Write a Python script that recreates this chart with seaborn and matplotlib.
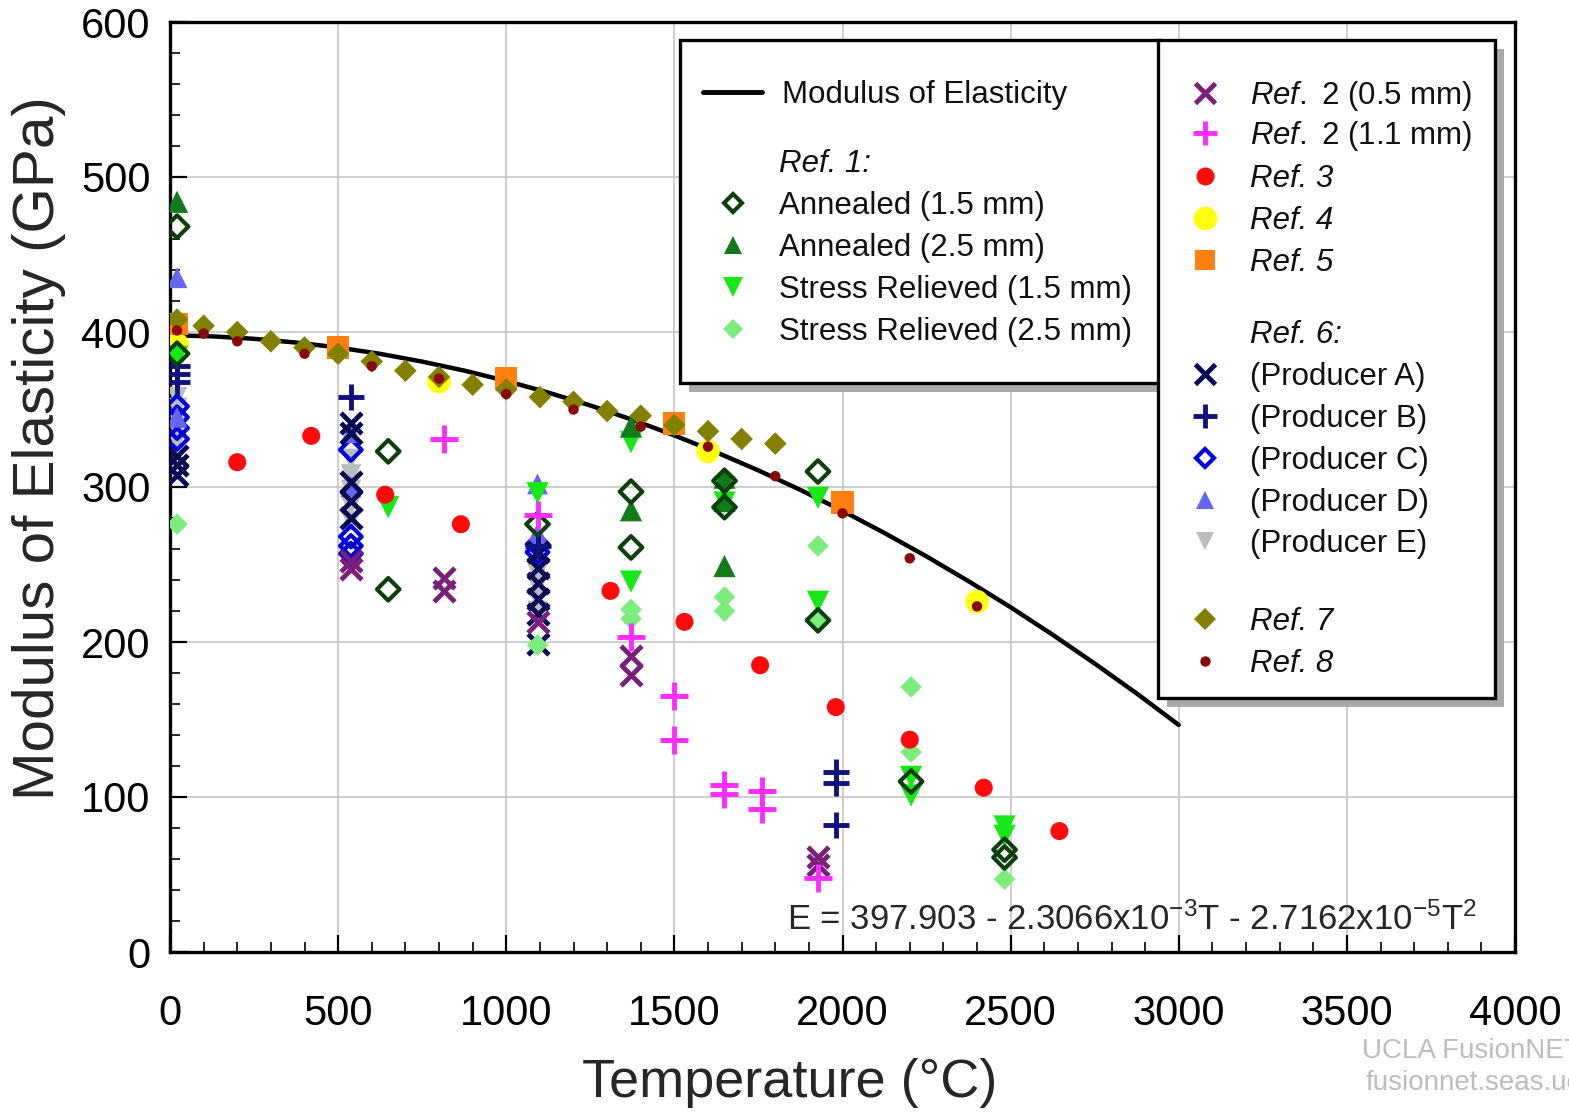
import matplotlib
matplotlib.use("Agg")
import numpy as np
import pandas as pd
import seaborn as sns
import matplotlib.pyplot as plt
from matplotlib.lines import Line2D
from matplotlib.patches import Rectangle
from matplotlib.ticker import MultipleLocator

# ---------------- data ----------------
curve_T = [0, 125, 250, 375, 500, 625, 750, 875, 1000, 1125, 1250, 1375, 1500,
           1625, 1750, 1875, 2000, 2125, 2250, 2375, 2500, 2625, 2750, 2875, 3000]
curve_E = [397.9, 397.2, 395.6, 393.2, 390.0, 385.9, 380.9, 375.1, 368.4, 360.9, 352.6, 343.4, 333.3,
           322.4, 310.7, 298.1, 284.6, 270.3, 255.2, 239.2, 222.4, 204.7, 186.1, 166.8, 146.5]

ref1_a15_T = [21, 21, 649, 649, 1093, 1371, 1371, 1649, 1649, 1927, 1927, 2204, 2482, 2482]
ref1_a15_E = [468, 386, 323, 234, 276, 297, 261, 304, 287, 310, 214, 110, 66, 61]

ref1_a25_T = [21, 1371, 1371, 1649, 1649, 1649]
ref1_a25_E = [484, 339, 285, 306, 291, 249]

ref1_sr15_T = [21, 649, 1093, 1371, 1371, 1649, 1649, 1927, 1927, 2204, 2204, 2482, 2482]
ref1_sr15_E = [384, 287, 296, 329, 239, 300, 290, 293, 226, 113, 101, 81, 75]

ref1_sr25_T = [21, 1093, 1371, 1371, 1649, 1649, 1927, 1927, 2204, 2204, 2482]
ref1_sr25_E = [276, 198, 221, 215, 229, 220, 262, 214, 171, 129, 47]

ref2_05_T = [538, 538, 816, 816, 1093, 1371, 1371, 1927, 1927]
ref2_05_E = [252, 247, 241, 233, 213, 191, 179, 61, 56]

ref2_11_T = [816, 1093, 1371, 1500, 1500, 1649, 1649, 1760, 1760, 1927]
ref2_11_E = [331, 282, 203, 165, 137, 108, 102, 104, 92, 48]

ref3_T = [200, 420, 640, 865, 1310, 1530, 1755, 1980, 2200, 2420, 2645]
ref3_E = [316, 333, 295, 276, 233, 213, 185, 158, 137, 106, 78]

ref4_T = [21, 800, 1600, 2400]
ref4_E = [392, 368, 323, 226]

ref5_T = [21, 500, 1000, 1500, 2000]
ref5_E = [405, 390, 370, 341, 290]

prodA_T = [21, 21, 21, 538, 538, 538, 538, 538, 1093, 1093, 1093, 1093, 1093, 1093]
prodA_E = [320, 314, 308, 341, 335, 303, 291, 280, 258, 248, 238, 228, 218, 199]
prodB_T = [21, 21, 21, 538, 1093, 1982, 1982, 1982]
prodB_E = [378, 373, 368, 358, 262, 116, 109, 82]
prodC_T = [21, 21, 21, 21, 538, 538, 538, 538, 1093, 1093]
prodC_E = [352, 345, 338, 331, 324, 268, 262, 257, 263, 258]
prodD_T = [21, 21, 538, 538, 1093, 1093]
prodD_E = [435, 345, 335, 300, 302, 270]
prodE_T = [21, 21, 21, 21, 21, 538, 538, 538, 538, 538, 1093, 1093, 1093, 1093, 1093]
prodE_E = [358, 351, 344, 337, 330, 318, 308, 298, 288, 278, 252, 244, 236, 228, 220]

ref7_T = [21, 100, 200, 300, 400, 500, 600, 700, 800, 900, 1000, 1100, 1200, 1300, 1400, 1500, 1600, 1700, 1800]
ref7_E = [408, 404, 400, 394, 390, 386, 381, 375, 371, 366, 363, 358, 355, 349, 346, 340, 336, 331, 328]

ref8_T = [21, 100, 200, 400, 600, 800, 1000, 1200, 1400, 1600, 1800, 2000, 2200, 2400]
ref8_E = [401, 399, 394, 386, 378, 370, 360, 350, 339, 326, 307, 283, 254, 223]

x_ticks = [0, 500, 1000, 1500, 2000, 2500, 3000, 3500, 4000]
y_ticks = [0, 100, 200, 300, 400, 500, 600]

# ---------------- style ----------------
sns.set_theme(style="white")
plt.rcParams["font.family"] = ["Liberation Sans", "DejaVu Sans"]
plt.rcParams["mathtext.fontset"] = "custom"
plt.rcParams["mathtext.rm"] = "Liberation Sans"
plt.rcParams["mathtext.it"] = "Liberation Sans:italic"
plt.rcParams["mathtext.default"] = "regular"

W, H = 1569, 1114
fig = plt.figure(figsize=(W / 100, H / 100), dpi=100)
ax = fig.add_axes([170 / W, 1 - 952 / H, (1515 - 170) / W, (952 - 22) / H])

# colours
C_A15 = "#0d3f0d"
C_A25 = "#137a1c"
C_SR15 = "#18e818"
C_SR25 = "#7ced7c"
C_R205 = "#7a1f7a"
C_R211 = "#ff2bff"
C_R3 = "#ff0a0a"
C_R4 = "#ffff10"
C_R5 = "#ff7f0f"
C_PA = "#0b0b55"
C_PB = "#10107e"
C_PC = "#0000dd"
C_PD = "#6767ee"
C_PE = "#bcbcbc"
C_R7 = "#838000"
C_R8 = "#8a0a0a"

# series: (T, E, marker, color, size(pt), lw, open, zorder)
series = [
    (ref4_T, ref4_E, "o", C_R4, 17, 0, False, 3),
    (ref5_T, ref5_E, "s", C_R5, 16, 0, False, 3),
    (prodE_T, prodE_E, "v", C_PE, 15, 0, False, 4),
    (prodC_T, prodC_E, "D", C_PC, 11, 3, True, 4),
    (prodD_T, prodD_E, "^", C_PD, 15, 0, False, 4),
    (prodA_T, prodA_E, "x", C_PA, 15, 3.5, False, 4),
    (prodB_T, prodB_E, "+", C_PB, 19, 3.5, False, 4),
    (ref1_sr25_T, ref1_sr25_E, "D", C_SR25, 11, 0, False, 4),
    (ref1_sr15_T, ref1_sr15_E, "v", C_SR15, 16, 0, False, 4),
    (ref1_a25_T, ref1_a25_E, "^", C_A25, 16, 0, False, 4),
    (ref1_a15_T, ref1_a15_E, "D", C_A15, 11.5, 3, True, 4),
    (ref2_05_T, ref2_05_E, "x", C_R205, 15, 3.5, False, 5),
    (ref2_11_T, ref2_11_E, "+", C_R211, 20, 3.5, False, 5),
    (ref3_T, ref3_E, "o", C_R3, 13, 0, False, 5),
    (ref7_T, ref7_E, "D", C_R7, 11.5, 0, False, 5),
    (ref8_T, ref8_E, "o", C_R8, 7.5, 0, False, 6),
]

sns.lineplot(x=curve_T, y=curve_E, color="black", linewidth=3.2, ax=ax, zorder=2.5)

for T, E, m, c, sz, lw, is_open, z in series:
    kw = dict(x=T, y=E, marker=m, s=sz ** 2, ax=ax, zorder=z, legend=False)
    if m in ("x", "+"):
        sns.scatterplot(color=c, linewidth=lw, **kw)
    elif is_open:
        sns.scatterplot(color=c, facecolor="none", edgecolor=c, linewidth=lw, **kw)
    else:
        sns.scatterplot(color=c, edgecolor="none", linewidth=0, **kw)

# ---------------- axes ----------------
ax.set_xlim(0, 4000)
ax.set_ylim(0, 600)
ax.set_xticks(x_ticks)
ax.set_yticks(y_ticks)
ax.xaxis.set_minor_locator(MultipleLocator(100))
ax.yaxis.set_minor_locator(MultipleLocator(20))
ax.tick_params(axis="both", which="major", direction="in", length=12, width=1.6,
               labelsize=30, colors="black", left=True, bottom=True, top=False, right=False)
ax.tick_params(axis="both", which="minor", direction="in", length=7, width=1.4,
               left=True, bottom=True, top=False, right=False)
ax.tick_params(axis="x", which="major", pad=30)
ax.tick_params(axis="y", which="major", pad=14)
ax.grid(True, which="major", color="#c6c6c6", linewidth=1.2)
ax.set_axisbelow(True)
for sp in ax.spines.values():
    sp.set_visible(True)
    sp.set_color("black")
    sp.set_linewidth(2.4)

ax.set_xlabel("Temperature (°C)", fontsize=39)
ax.xaxis.set_label_coords((790 - 170) / 1345, -(1058 - 952) / 930)
ax.set_ylabel("Modulus of Elasticity (GPa)", fontsize=42)
ax.yaxis.set_label_coords((66 - 170) / 1345, (952 - 448) / 930)

ax.text((787 - 170) / 1345, (952 - 930) / 930,
        r"E = 397.903 - 2.3066x10$^{-3}$T - 2.7162x10$^{-5}$T$^{2}$",
        transform=ax.transAxes, fontsize=25, ha="left", va="baseline", zorder=7)

# ---------------- legend boxes ----------------
def fx(x):
    return x / W


def fy(y):
    return 1 - y / H


def box(x0, y0, x1, y1):
    sh = Rectangle((fx(x0 + 9), fy(y1 + 9)), fx(x1 - x0), (y1 - y0) / H,
                   transform=fig.transFigure, facecolor="#a9a9a9", edgecolor="none", zorder=2)
    fr = Rectangle((fx(x0), fy(y1)), fx(x1 - x0), (y1 - y0) / H,
                   transform=fig.transFigure, facecolor="white", edgecolor="black",
                   linewidth=2.4, zorder=3)
    fig.add_artist(sh)
    fig.add_artist(fr)


box(680, 40, 1160, 383)
box(1158, 40, 1495, 698)

FS = 22.5
FSPX = FS * 100 / 72
LSP = 0.38


def mk(m, c, sz, lw=0, is_open=False):
    if m in ("x", "+"):
        return Line2D([], [], linestyle="none", marker=m, color=c, markersize=sz, markeredgewidth=lw)
    if is_open:
        return Line2D([], [], linestyle="none", marker=m, markerfacecolor="none",
                      markeredgecolor=c, markersize=sz, markeredgewidth=lw)
    return Line2D([], [], linestyle="none", marker=m, color=c, markersize=sz, markeredgewidth=0)


blank = Line2D([], [], linestyle="none", marker=None)


def block(entries, x_anchor, y_top, hl, tp, lsp=LSP):
    handles = [e[0] for e in entries]
    labels = [e[1] for e in entries]
    leg = fig.legend(handles, labels, loc="upper left",
                     bbox_to_anchor=(fx(x_anchor), fy(y_top)), bbox_transform=fig.transFigure,
                     frameon=False, borderpad=0, borderaxespad=0, fontsize=FS,
                     labelspacing=lsp, handlelength=hl, handletextpad=tp, handleheight=0.7)
    leg.set_zorder(8)
    for t, e in zip(leg.get_texts(), entries):
        t.set_color("#111111")
        if e[2]:
            t.set_fontstyle("italic")
    return leg


block([(Line2D([], [], color="black", linewidth=3.5), "Modulus of Elasticity", False)],
      703, 80, (762 - 703) / FSPX, (782 - 762) / FSPX)

hb = 2.0
block([
    (blank, "Ref. 1:", True),
    (mk("D", C_A15, 9, 3, True), "Annealed (1.5 mm)", False),
    (mk("^", C_A25, 13), "Annealed (2.5 mm)", False),
    (mk("v", C_SR15, 14), "Stress Relieved (1.5 mm)", False),
    (mk("D", C_SR25, 10), "Stress Relieved (2.5 mm)", False),
], 733 - hb * FSPX / 2, 149, hb, (779 - (733 - hb * FSPX / 2)) / FSPX - hb)

xa = 1205 - hb * FSPX / 2
tpc = (1250 - xa) / FSPX - hb
block([
    (mk("x", C_R205, 14, 3.5), r"$\mathit{Ref.}$ 2 (0.5 mm)", False),
    (mk("+", C_R211, 17, 3.5), r"$\mathit{Ref.}$ 2 (1.1 mm)", False),
], xa, 79, hb, tpc, lsp=0.2)

block([
    (mk("o", C_R3, 13), "Ref. 3", True),
    (mk("o", C_R4, 17), "Ref. 4", True),
    (mk("s", C_R5, 15), "Ref. 5", True),
], xa, 164, hb, tpc)

block([
    (blank, "Ref. 6:", True),
    (mk("x", C_PA, 14, 3.5), "(Producer A)", False),
    (mk("+", C_PB, 17, 3.5), "(Producer B)", False),
    (mk("D", C_PC, 9, 3, True), "(Producer C)", False),
    (mk("^", C_PD, 13), "(Producer D)", False),
    (mk("v", C_PE, 13), "(Producer E)", False),
], xa, 320, hb, tpc)

block([
    (mk("D", C_R7, 11), "Ref. 7", True),
    (mk("o", C_R8, 7.5), "Ref. 8", True),
], xa, 607, hb, tpc)

# watermark
fig.text(fx(1362), fy(1058), "UCLA FusionNET", fontsize=20, color="#bdbdbd", ha="left", va="baseline")
fig.text(fx(1366), fy(1090), "fusionnet.seas.ucla.edu", fontsize=20, color="#bdbdbd", ha="left", va="baseline")

fig.savefig("out.png", dpi=100)
